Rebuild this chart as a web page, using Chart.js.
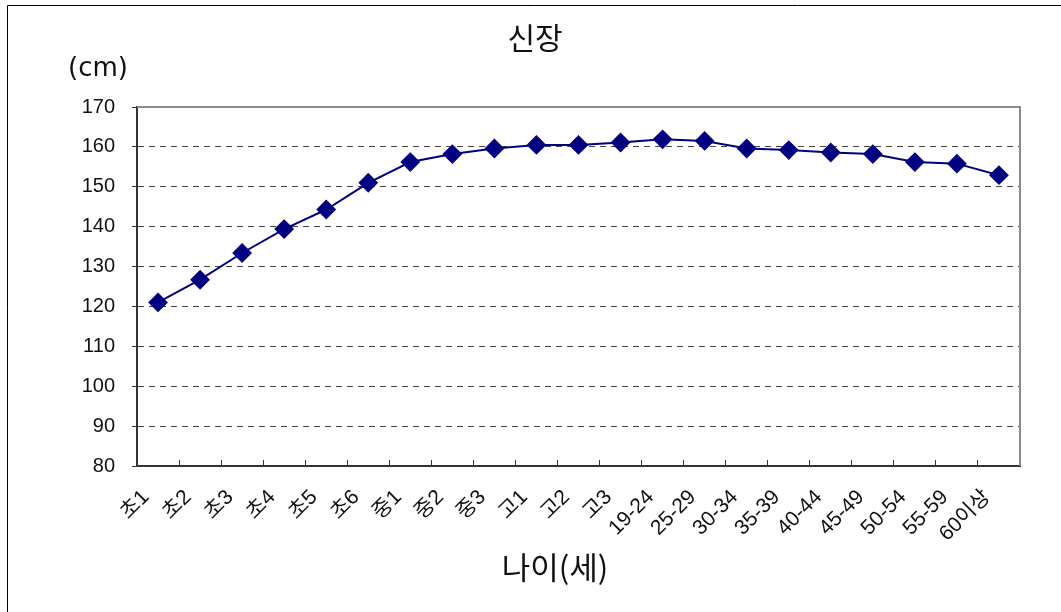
<!DOCTYPE html>
<html>
<head>
<meta charset="utf-8">
<script src="https://cdn.jsdelivr.net/npm/chart.js@4"></script>
<style>
	body { margin: 0; background: #fff; }
	#chart { display: block; }
</style>
</head>
<body>
<canvas id="chart" width="1061" height="612"></canvas>
<script>
const categories = ['초1', '초2', '초3', '초4', '초5', '초6', '중1', '중2', '중3', '고1', '고2', '고3',
	'19-24', '25-29', '30-34', '35-39', '40-44', '45-49', '50-54', '55-59', '60이상'];
const heights = [121.0, 126.7, 133.4, 139.4, 144.3, 151.0, 156.2, 158.2, 159.6, 160.5, 160.5, 161.1,
	161.9, 161.5, 159.6, 159.2, 158.6, 158.2, 156.2, 155.8, 152.9];
const yMin = 80;
const yMax = 170;
const yStep = 10;

const FONT = '"Liberation Sans", "Noto Sans CJK KR", sans-serif';
const KR_FONT = '"Noto Sans CJK KR", sans-serif';

// page border, plot frame (top/right) and the free-standing labels
const framePlugin = {
	id: 'frame',
	beforeDatasetsDraw: chart => {
		const {ctx, chartArea} = chart;
		ctx.save();
		ctx.strokeStyle = '#8a8a8a';
		ctx.lineWidth = 2;
		ctx.beginPath();
		ctx.moveTo(chartArea.left, chartArea.top);
		ctx.lineTo(chartArea.right, chartArea.top);
		ctx.lineTo(chartArea.right, chartArea.bottom);
		ctx.stroke();
		ctx.restore();
	},
	afterDraw: chart => {
		const {ctx} = chart;
		ctx.save();
		ctx.strokeStyle = '#000';
		ctx.lineWidth = 1;
		ctx.beginPath();
		ctx.moveTo(7.5, 612);
		ctx.lineTo(7.5, 5.5);
		ctx.lineTo(1061, 5.5);
		ctx.stroke();

		ctx.fillStyle = '#111';
		ctx.textAlign = 'center';
		ctx.textBaseline = 'middle';
		ctx.font = `30px ${KR_FONT}`;
		ctx.fillText('신장', 535, 38);
		ctx.font = `26px "DejaVu Sans", sans-serif`;
		ctx.fillText('(cm)', 98, 69);
		ctx.font = `31px ${KR_FONT}`;
		ctx.fillText('나이(세)', 555, 567);
		ctx.restore();
	}
};

const config = {
	type: 'line',
	data: {
		labels: categories,
		datasets: [{
			label: '신장',
			data: heights,
			borderColor: '#000080',
			backgroundColor: '#000080',
			borderWidth: 2,
			pointStyle: 'rectRot',
			pointRadius: 8.5,
			pointHoverRadius: 8.5,
			tension: 0
		}]
	},
	options: {
		responsive: false,
		animation: false,
		layout: {
			padding: { left: 0, right: 41, top: 107, bottom: 0 }
		},
		plugins: {
			legend: { display: false },
			tooltip: { enabled: false },
			title: { display: false }
		},
		scales: {
			x: {
				offset: true,
				afterFit: scale => { scale.height = 146; },
				grid: {
					offset: true,
					drawOnChartArea: false,
					drawTicks: true,
					tickLength: -6,
					color: '#333',
					tickColor: '#333'
				},
				border: { color: '#333', width: 2 },
				ticks: {
					autoSkip: false,
					maxRotation: 45,
					minRotation: 45,
					labelOffset: -12,
					padding: 25,
					color: '#111',
					font: { family: FONT, size: 21 }
				}
			},
			y: {
				min: yMin,
				max: yMax,
				afterFit: scale => { scale.width = 137; },
				grid: {
					color: ctx => ctx.tick && ctx.tick.value === yMax ? 'rgba(0,0,0,0)' : '#444',
					tickColor: '#333',
					tickLength: 5
				},
				border: { color: '#333', width: 2, dash: [6, 5] },
				ticks: {
					stepSize: yStep,
					padding: 17,
					color: '#111',
					font: { family: FONT, size: 20 }
				}
			}
		}
	},
	plugins: [framePlugin]
};

new Chart(document.getElementById('chart'), config);
</script>
</body>
</html>
